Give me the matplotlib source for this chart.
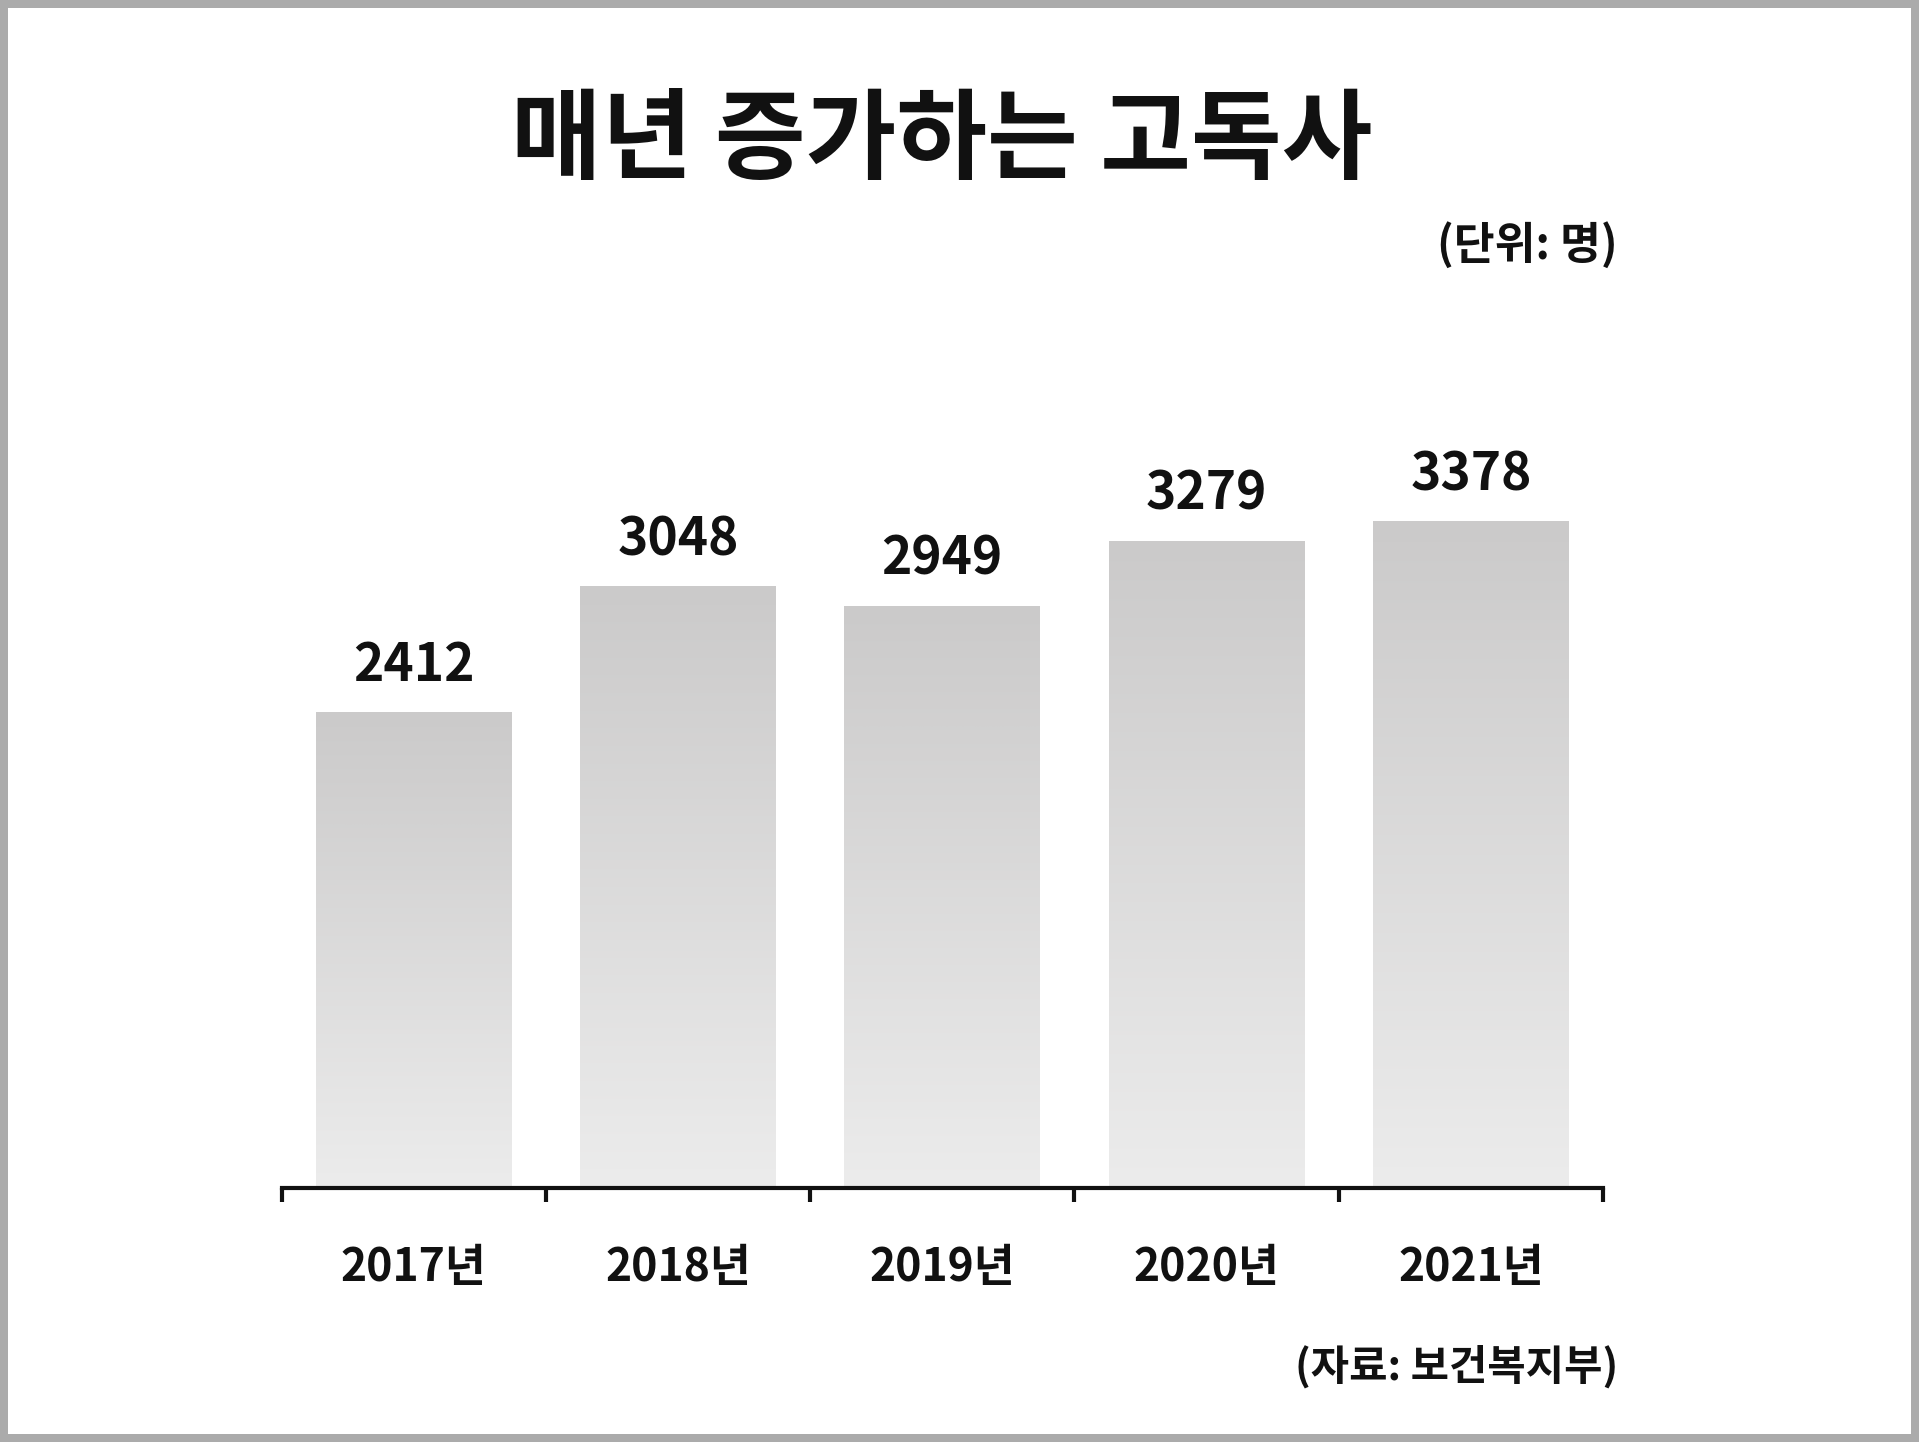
import matplotlib
matplotlib.use("Agg")
import matplotlib.pyplot as plt
import numpy as np
from matplotlib.patches import Rectangle
from matplotlib.colors import LinearSegmentedColormap

plt.rcParams['font.family'] = ['Noto Sans CJK KR', 'DejaVu Sans']

years = ['2017년', '2018년', '2019년', '2020년', '2021년']
values = [2412, 3048, 2949, 3279, 3378]
title = '매년 증가하는 고독사'
unit_text = '(단위: 명)'
source_text = '(자료: 보건복지부)'

W, H = 1919, 1442
fig = plt.figure(figsize=(W / 100, H / 100), dpi=100)
fig.patch.set_facecolor('#ababab')
b = 8
fig.add_artist(Rectangle((b / W, b / H), (W - 2 * b) / W, (H - 2 * b) / H,
                         transform=fig.transFigure, facecolor='white',
                         edgecolor='none', zorder=0))

AX_H = 850
ax = fig.add_axes([281.5 / W, 254 / H, (1603 - 281.5) / W, AX_H / H])
ax.set_facecolor('none')
x = np.arange(len(years))
ymax = AX_H / 0.1972

bars = ax.bar(x, values, width=0.74, color='none', edgecolor='none')
cmap = LinearSegmentedColormap.from_list('g', ['#ececec', '#cbcaca'])
grad = np.linspace(0, 1, 256).reshape(-1, 1)
for rect in bars:
    x0, w, h = rect.get_x(), rect.get_width(), rect.get_height()
    ax.imshow(grad, extent=(x0, x0 + w, 0, h), origin='lower', cmap=cmap,
              aspect='auto', zorder=1, interpolation='bicubic')
ax.set_xlim(-0.5, len(years) - 0.5)
ax.set_ylim(0, ymax)

for xi, v in zip(x, values):
    ax.annotate(f'{v}', (xi, v), xytext=(0, 15), textcoords='offset points',
                ha='center', va='bottom', fontsize=37, fontweight='bold',
                color='#111111', annotation_clip=False)

for s in ['left', 'right', 'top']:
    ax.spines[s].set_visible(False)
ax.spines['bottom'].set_linewidth(3)
ax.spines['bottom'].set_color('#111111')
ax.set_yticks([])
ax.set_xticks(x)
ax.set_xticklabels(years, fontsize=32, fontweight='bold', color='#111111')
ax.tick_params(axis='x', which='major', length=0, pad=41)
ax.set_xticks(np.arange(-0.5, len(years)), minor=True)
ax.tick_params(axis='x', which='minor', length=10, width=3, color='#111111',
               direction='out')

fig.text(942 / W, 1 - 142 / H, title, ha='center', va='center',
         fontsize=71, fontweight='bold', color='#111111')
fig.text(1618 / W, 1 - 245 / H, unit_text, ha='right', va='center',
         fontsize=32, fontweight='bold', color='#111111')
fig.text(1618 / W, 1 - 1367 / H, source_text, ha='right', va='center',
         fontsize=30, fontweight='bold', color='#111111')

fig.savefig('out.png', dpi=100, facecolor=fig.get_facecolor())
